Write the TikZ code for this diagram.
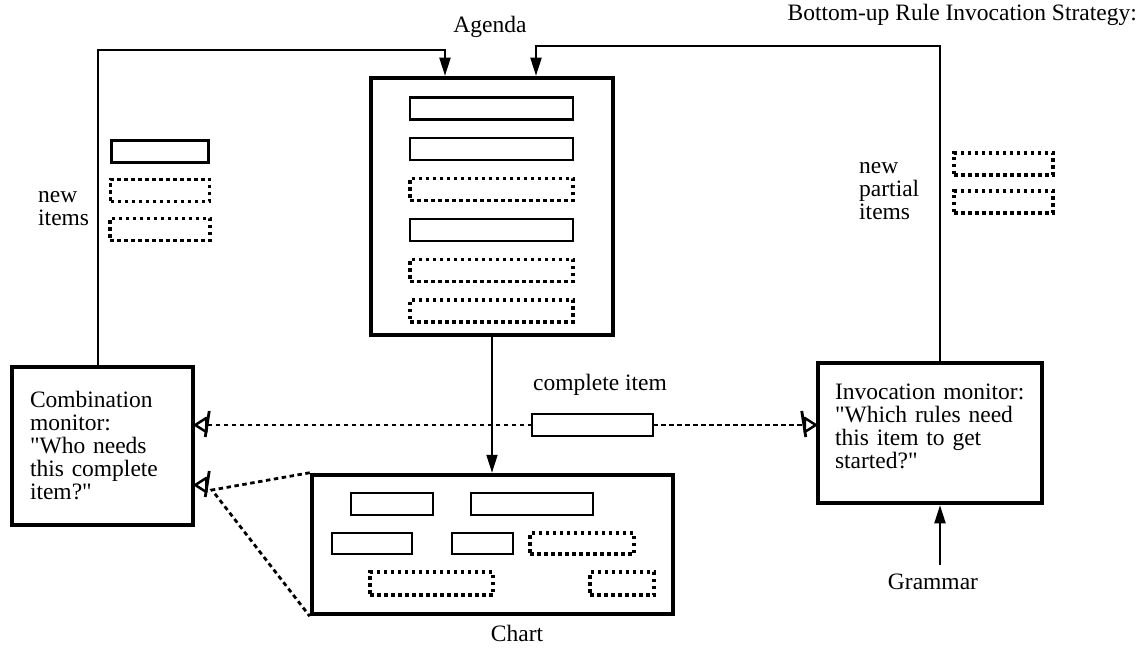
\documentclass[tikz,border=0pt]{standalone}
\usepackage{fontspec}
\setmainfont{Liberation Serif}
\newfontfamily\qfont{Liberation Serif}[Ligatures=ResetAll]
\usepackage{tikz}
\usetikzlibrary{arrows.meta,positioning}
\newcommand{\serifall}{\rmfamily\fontsize{23.5pt}{23pt}\selectfont}
\newcommand{\dq}{{\qfont"}}
\tikzset{
  panel/.style={draw, line width=4.5pt, inner sep=0pt, align=left,
                font=\serifall},
  itm/.style={draw, line width=2.2pt, minimum height=22pt, inner sep=0pt,
              outer sep=0pt},
  pitm/.style={itm, line width=3.5pt, dash pattern=on 3.5pt off 3.5pt},
  ar/.style={-{Triangle[length=18pt,width=11pt]}, line width=2pt},
  lnk/.style={line width=2.8pt, dash pattern=on 4.5pt off 3.5pt},
  lbl/.style={font=\serifall, align=left, inner sep=0pt},
  % eye marker pointing left, apex on the box border
  eye/.pic={
    \draw[line width=2.5pt, line join=round] (0,0) -- (11,-7) -- (11,7) -- cycle;
    \draw[line width=2.8pt] (14,-14) -- (10,12);
  },
}
\begin{document}
\begin{tikzpicture}[x=1pt, y=-1pt]
  \useasboundingbox (0,0) rectangle (1141,652);

  % --- agenda ---
  \node[panel, minimum width=242pt, minimum height=257pt] (agd) at (492,206.5) {};
  \node[lbl] (agdl) at (490,27) {Agenda};
  \node[itm, minimum width=163pt] (a1) at (491.5,108.5) {};
  \foreach \s/\i/\j in {itm/2/1, pitm/3/2, itm/4/3, pitm/5/4, pitm/6/5}
    \node[\s, minimum width=163pt, below=18.5pt of a\j] (a\i) {};

  % --- monitors ---
  \node[panel, text width=145pt, inner xsep=18pt, minimum height=158pt] (cmb)
       at (102.5,446)
       {Combination\\monitor:\\\dq Who needs\\this complete\\item?\dq};
  \node[panel, text width=190pt, inner xsep=17pt, minimum height=140pt] (inv)
       at (930,433)
       {Invocation monitor:\\\dq Which rules need\\this item to get\\started?\dq\\[-9pt]\mbox{}};

  % --- chart ---
  \node[panel, minimum width=361pt, minimum height=139pt] (chart) at (492.5,544.5) {};
  \node[lbl] (chartl) at (517,633) {Chart};
  \node[itm, minimum width=82pt] (c1) at (392,504) {};
  \node[itm, minimum width=122pt, right=38pt of c1] (c2) {};
  \node[itm, minimum width=80pt, minimum height=21pt] (c3) at (372,543.5) {};
  \node[itm, minimum width=61pt, minimum height=21pt, right=40pt of c3] (c4) {};
  \node[pitm, minimum width=104pt, minimum height=21pt, right=17pt of c4] (c5) {};
  \node[pitm, minimum width=123pt, minimum height=23pt] (c6) at (431.5,583.5) {};
  \node[pitm, minimum width=64pt, minimum height=23pt, right=97pt of c6] (c7) {};

  % --- new items ---
  \node[lbl, anchor=west] (newl) at (38,209) {new\\items};
  \node[itm, minimum width=97pt] (n1) at (160,151.5) {};
  \node[pitm, minimum width=99pt, below=17pt of n1] (n2) {};
  \node[pitm, minimum width=100pt, below=17pt of n2] (n3) {};

  \node[lbl, anchor=west] (newp) at (859,191) {new\\partial\\items};
  \node[pitm, minimum width=99pt] (p1) at (1003.5,164) {};
  \node[pitm, minimum width=99pt, below=16pt of p1] (p2) {};

  % --- complete item ---
  \node[lbl] (citl) at (600,385) {complete item};
  \node[itm, minimum width=121pt] (cit) at (592.5,425) {};

  \node[lbl] (gram) at (933,582) {Grammar};
  \node[lbl, anchor=east] (title) at (1137,15) {Bottom-up Rule Invocation Strategy:};

  % --- connectors ---
  \draw[ar] ([xshift=-4.5pt]cmb.north) |- (445,50) -- ([xshift=-47pt]agd.north);
  \draw[ar] ([xshift=10pt]inv.north) |- (536,46) -- ([xshift=44pt]agd.north);
  \draw[ar] (agd.south) -- (agd.south |- chart.north);
  \draw[ar] ([shift={(7,-9)}]gram.north) -- ([xshift=10pt]inv.south);

  \draw[lnk] (cit.west) -- ([xshift=12pt]cit.west -| cmb.east);
  \pic at (cit.west -| cmb.east) {eye};
  \draw[lnk] (cit.east) -- ([xshift=-12pt]cit.east -| inv.west);
  \pic[xscale=-1] at (cit.east -| inv.west) {eye};

  \coordinate (fork) at (212,490);
  \draw[lnk] (chart.north west) -- (fork) -- (chart.south west);
  \pic at (cmb.east |- 0,485) {eye};
\end{tikzpicture}
\end{document}
